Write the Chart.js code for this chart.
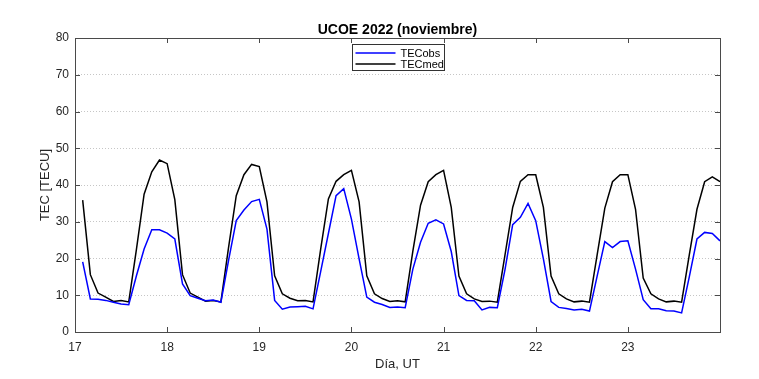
<!DOCTYPE html>
<html><head><meta charset="utf-8">
<script src="https://cdn.jsdelivr.net/npm/chart.js@4/dist/chart.umd.min.js"></script>
<style>html,body{margin:0;padding:0;background:#fff}#wrap{width:759px;height:379px}</style>
</head><body><div id="wrap"><canvas id="c" width="759" height="379"></canvas></div>
<script>
// hours since 17 Nov 00 UT
const hoursFrom17 = [2,4,6,8,10,12,14,16,18,20,22,24,
  26,28,30,32,34,36,38,40,42,44,46,48,
  50,52,54,56,58,60,62,64,66,68,70,72,
  74,76,78,80,82,84,86,88,90,92,94,96,
  98,100,102,104,106,108,110,112,114,116,118,120,
  122,124,126,128,130,132,134,136,138,140,142,144,
  146,148,150,152,154,156,158,160,162,164,166,168];
const tecObs = [19.1,9.0,8.9,8.6,8.1,7.6,7.4,15.3,22.6,27.8,27.8,26.9,
  25.3,13.1,9.9,9.2,8.5,8.7,8.1,19.5,30.3,33.2,35.5,36.1,
  28.0,8.6,6.2,6.8,6.9,7.0,6.3,16.5,26.8,37.1,39.0,30.7,
  19.9,9.5,8.1,7.5,6.7,6.8,6.6,17.1,24.4,29.6,30.5,29.4,
  21.9,9.9,8.6,8.5,6.0,6.7,6.6,17.0,29.2,31.2,35.0,30.3,
  19.9,8.3,6.7,6.4,6.0,6.2,5.7,15.2,24.6,23.0,24.6,24.8,
  17.1,8.8,6.3,6.3,5.8,5.7,5.2,15.0,25.3,27.1,26.8,24.8];
const tecMed = [35.9,15.6,10.6,9.5,8.3,8.6,8.2,22.5,37.5,43.6,46.8,45.8,
  36.0,15.6,10.6,9.5,8.4,8.6,8.2,23.0,37.1,42.8,45.6,45.0,
  35.4,15.3,10.4,9.2,8.5,8.6,8.2,22.6,36.2,41.0,42.8,44.0,
  35.4,15.3,10.4,9.1,8.3,8.5,8.2,22.0,34.5,40.9,42.8,44.0,
  33.9,15.2,10.4,9.0,8.3,8.4,8.1,21.0,33.9,41.0,42.8,42.8,
  33.9,15.2,10.4,9.0,8.2,8.4,8.1,21.0,33.7,40.9,42.8,42.8,
  33.4,14.7,10.4,9.0,8.2,8.4,8.1,21.0,33.4,40.9,42.2,40.9];
const seriesNames = ['TECobs','TECmed'];
const seriesColors = ['#0000ff','#000000'];
const xTickValues = [17,18,19,20,21,22,23];
const yTickValues = [0,10,20,30,40,50,60,70,80];
const titleText = 'UCOE 2022 (noviembre)';
const xLabel = 'Día, UT';
const yLabel = 'TEC [TECU]';

const FONT = "'Liberation Sans', Arial, Helvetica, sans-serif";
const toPts = vals => vals.map((v, i) => ({x: 17 + hoursFrom17[i] / 24, y: v}));

const framePlugin = {
  id: 'frame',
  afterDraw(chart) {
    const {ctx, chartArea: a, scales} = chart;
    const xs = scales.x, ys = scales.y;
    ctx.save();
    // title centred over the plot box
    ctx.fillStyle = '#000';
    ctx.font = 'bold 14px ' + FONT;
    ctx.textAlign = 'center';
    ctx.textBaseline = 'middle';
    ctx.fillText(titleText, (a.left + a.right) / 2, a.top - 8);

    ctx.strokeStyle = '#4a4a4a';
    ctx.lineWidth = 1;
    ctx.beginPath();
    const L = 5;
    xTickValues.concat([24]).forEach(v => {
      const px = Math.round(xs.getPixelForValue(v)) + 0.5;
      ctx.moveTo(px, a.bottom); ctx.lineTo(px, a.bottom - L);
      ctx.moveTo(px, a.top); ctx.lineTo(px, a.top + L);
    });
    yTickValues.forEach(v => {
      const py = Math.round(ys.getPixelForValue(v)) + 0.5;
      ctx.moveTo(a.left, py); ctx.lineTo(a.left + L, py);
      ctx.moveTo(a.right, py); ctx.lineTo(a.right - L, py);
    });
    ctx.stroke();
    ctx.strokeRect(Math.round(a.left) + 0.5, Math.round(a.top) + 0.5,
      Math.round(a.right - a.left), Math.round(a.bottom - a.top));
    // legend
    const w = 92, rowH = 11;
    const cx = (a.left + a.right) / 2;
    const lx = Math.round(cx - w / 2) + 0.5, ly = Math.round(a.top + 6) + 0.5;
    const h = 26;
    ctx.fillStyle = '#ffffff';
    ctx.fillRect(lx, ly, w, h);
    ctx.strokeStyle = '#333';
    ctx.strokeRect(lx, ly, w, h);
    ctx.font = '11px ' + FONT;
    ctx.textBaseline = 'middle';
    ctx.textAlign = 'left';
    chart.data.datasets.forEach((ds, i) => {
      const y = ly + 8.5 + i * rowH;
      ctx.strokeStyle = ds.borderColor;
      ctx.lineWidth = 1.5;
      ctx.beginPath();
      ctx.moveTo(lx + 3, y); ctx.lineTo(lx + 43, y);
      ctx.stroke();
      ctx.fillStyle = '#000';
      ctx.fillText(ds.label, lx + 48, y + 0.5);
    });
    ctx.restore();
  }
};

new Chart(document.getElementById('c'), {
  type: 'line',
  data: {
    datasets: [
      {label: seriesNames[0], data: toPts(tecObs), borderColor: seriesColors[0], borderWidth: 1.5, pointRadius: 0, tension: 0, fill: false},
      {label: seriesNames[1], data: toPts(tecMed), borderColor: seriesColors[1], borderWidth: 1.5, pointRadius: 0, tension: 0, fill: false}
    ]
  },
  options: {
    responsive: false,
    animation: false,
    layout: {padding: {left: 0, right: 39, top: 38, bottom: 0}},
    plugins: {
      legend: {display: false},
      tooltip: {enabled: false},
      title: {display: false}
    },
    scales: {
      x: {
        type: 'linear', min: 17, max: 24,
        afterFit: s => { s.height = 47; },
        grid: {display: false, drawTicks: false},
        border: {display: false},
        ticks: {stepSize: 1, autoSkip: false, maxRotation: 0, padding: 8,
          color: '#262626', font: {family: FONT, size: 12},
          callback: v => xTickValues.includes(v) ? String(v) : ''},
        title: {display: true, text: xLabel, color: '#262626',
          font: {family: FONT, size: 13}, padding: {top: 0, bottom: 7}}
      },
      y: {
        min: 0, max: 80,
        afterFit: s => { s.width = 75; },
        grid: {color: '#c6c6c6', lineWidth: 1, drawTicks: false},
        border: {display: false, dash: [1, 2]},
        ticks: {stepSize: 10, padding: 6, color: '#262626', font: {family: FONT, size: 12},
          callback: v => yTickValues.includes(v) ? String(v) : ''},
        title: {display: true, text: yLabel, color: '#262626',
          font: {family: FONT, size: 13}, padding: {top: 38, bottom: 0}}
      }
    }
  },
  plugins: [framePlugin]
});
</script>
</body></html>
